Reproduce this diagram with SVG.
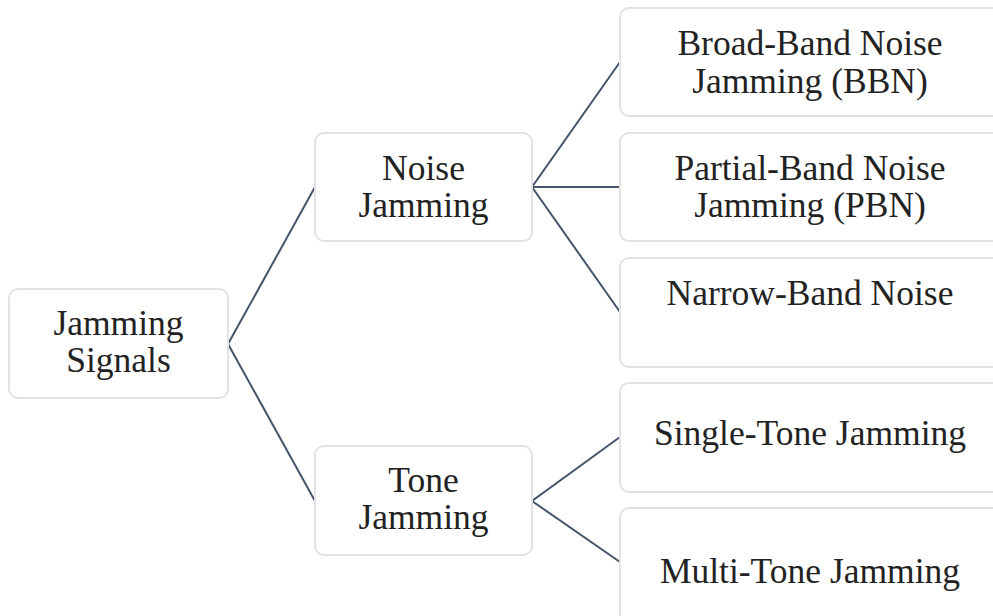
<svg xmlns="http://www.w3.org/2000/svg" width="993" height="616" viewBox="0 0 993 616">
<style>
.box{fill:#ffffff;stroke:#e3e3e3;stroke-width:2}
.t{font-family:'Liberation Serif','Times New Roman','DejaVu Serif',serif;font-size:35.5px;fill:#222222;text-anchor:middle}
.c{stroke:#44546a;stroke-width:2;fill:none}
</style>
<rect width="993" height="616" fill="#ffffff"/>
<g id="connectors">
<polyline class="c" points="315,187 228,344 315,501"/>
<polyline class="c" points="620,62 532,187 620,312"/>
<line class="c" x1="532" y1="187" x2="620" y2="187"/>
<polyline class="c" points="620,437 532,501 620,562"/>
</g>
<g id="jamming-signals">
<rect class="box" x="9" y="289" width="219" height="109" rx="9"/>
<text class="t" x="118.5" y="335">Jamming</text>
<text class="t" x="118.5" y="372">Signals</text>
</g>
<g id="noise-jamming">
<rect class="box" x="315" y="133" width="217" height="108" rx="9"/>
<text class="t" x="423.5" y="180">Noise</text>
<text class="t" x="423.5" y="217">Jamming</text>
</g>
<g id="tone-jamming">
<rect class="box" x="315" y="446" width="217" height="109" rx="9"/>
<text class="t" x="423.5" y="492">Tone</text>
<text class="t" x="423.5" y="529">Jamming</text>
</g>
<g id="bbn">
<rect class="box" x="620" y="8" width="390" height="108" rx="9"/>
<text class="t" x="810" y="55">Broad-Band Noise</text>
<text class="t" x="810" y="93">Jamming (BBN)</text>
</g>
<g id="pbn">
<rect class="box" x="620" y="133" width="390" height="108" rx="9"/>
<text class="t" x="810" y="180">Partial-Band Noise</text>
<text class="t" x="810" y="217">Jamming (PBN)</text>
</g>
<g id="nbn">
<rect class="box" x="620" y="258" width="390" height="109" rx="9"/>
<text class="t" x="810" y="305">Narrow-Band Noise</text>
</g>
<g id="single-tone">
<rect class="box" x="620" y="383" width="390" height="109" rx="9"/>
<text class="t" x="810" y="445">Single-Tone Jamming</text>
</g>
<g id="multi-tone">
<rect class="box" x="620" y="508" width="390" height="120" rx="9"/>
<text class="t" x="810" y="583">Multi-Tone Jamming</text>
</g>
</svg>
